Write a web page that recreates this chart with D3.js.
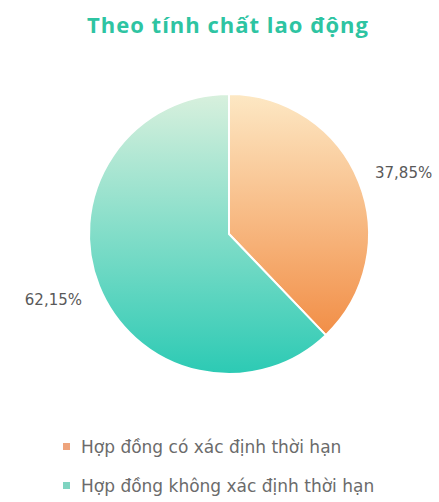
<!DOCTYPE html>
<html>
<head>
<meta charset="utf-8">
<script src="https://cdn.jsdelivr.net/npm/d3@7"></script>
<style>
  body { margin: 0; background: #fff; }
  svg { display: block; }
</style>
</head>
<body>
<svg id="chart"></svg>
<script>
const categories = ["Hợp đồng có xác định thời hạn", "Hợp đồng không xác định thời hạn"];
const values = [37.85, 62.15];
const labels = ["37,85%", "62,15%"];
const colorStops = [["#fde8c4", "#f08033"], ["#d8f0dd", "#2ccab4"]];
const legendColors = ["#eea47c", "#7fd4c1"];

const width = 439, height = 502;
const cx = 229, cy = 234, radius = 140;

const svg = d3.select("#chart")
    .attr("width", width)
    .attr("height", height);

// gradients, vertical across the whole pie
const defs = svg.append("defs");
colorStops.forEach((c, i) => {
    const g = defs.append("linearGradient")
        .attr("id", "grad" + i)
        .attr("gradientUnits", "userSpaceOnUse")
        .attr("x1", 0).attr("y1", -radius)
        .attr("x2", 0).attr("y2", radius);
    g.append("stop").attr("offset", "0%").attr("stop-color", c[0]);
    g.append("stop").attr("offset", "100%").attr("stop-color", c[1]);
});

svg.append("text")
    .attr("x", 228)
    .attr("y", 33)
    .attr("text-anchor", "middle")
    .style("font-family", "'Open Sans', sans-serif")
    .style("font-weight", "bold")
    .style("font-size", "22px")
    .style("letter-spacing", "1px")
    .style("fill", "#2ec4a2")
    .text("Theo tính chất lao động");

const pie = d3.pie().sort(null).value(d => d);
const arc = d3.arc().innerRadius(0).outerRadius(radius);

const g = svg.append("g").attr("transform", `translate(${cx},${cy})`);

g.selectAll("path")
    .data(pie(values))
    .enter()
    .append("path")
    .attr("d", arc)
    .attr("fill", (d, i) => `url(#grad${i})`)
    .attr("stroke", "#fff")
    .attr("stroke-width", 2);

// percentage labels outside the pie
const labelPos = [[146, -56], [-147, 71]];
g.selectAll(".pct")
    .data(pie(values))
    .enter()
    .append("text")
    .attr("class", "pct")
    .attr("x", (d, i) => labelPos[i][0])
    .attr("y", (d, i) => labelPos[i][1])
    .attr("text-anchor", (d, i) => i === 0 ? "start" : "end")
    .style("font-family", "'DejaVu Sans', sans-serif")
    .style("font-size", "15px")
    .style("fill", "#595959")
    .text((d, i) => labels[i]);

// legend
const legend = svg.selectAll(".legend")
    .data(categories)
    .enter()
    .append("g")
    .attr("class", "legend")
    .attr("transform", (d, i) => `translate(63, ${453 + i * 39})`);

legend.append("rect")
    .attr("x", 0).attr("y", -10)
    .attr("width", 7).attr("height", 7)
    .attr("fill", (d, i) => legendColors[i]);

legend.append("text")
    .attr("x", 18)
    .attr("y", 0)
    .style("font-family", "'DejaVu Sans', sans-serif")
    .style("font-size", "17px")
    .style("fill", "#6b6b6b")
    .text(d => d);
</script>
</body>
</html>
